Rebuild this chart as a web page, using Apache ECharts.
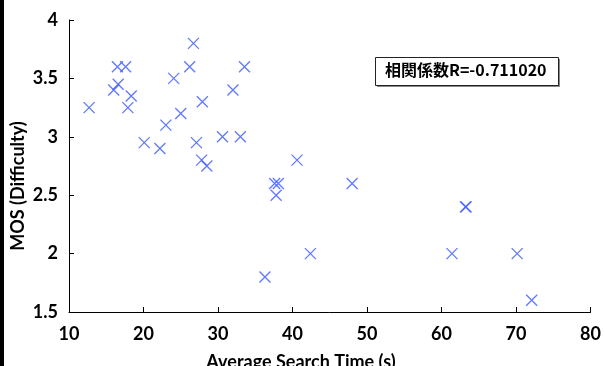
<!DOCTYPE html>
<html><head><meta charset="utf-8">
<script src="https://cdn.jsdelivr.net/npm/echarts@6/dist/echarts.min.js"></script>
<style>html,body{margin:0;padding:0;background:#fff}#c{width:604px;height:366px}</style>
</head><body><div id="c"></div>
<script>
const searchTime = [12.7,16.5,17.6,16.6,16.0,18.35,17.9,20.1,22.2,23.0,24.05,25.0,26.2,26.7,27.9,27.1,33.55,32.0,30.6,33.0,27.8,28.5,40.6,37.6,38.1,37.8,42.4,36.3,48.0,63.2,63.3,61.4,70.15,72.1];
const mos = [3.25,3.6,3.6,3.45,3.4,3.35,3.25,2.95,2.9,3.1,3.5,3.2,3.6,3.8,3.3,2.95,3.6,3.4,3.0,3.0,2.8,2.75,2.8,2.6,2.6,2.5,2.0,1.8,2.6,2.4,2.4,2.0,2.0,1.6];
const xTicks = [10,20,30,40,50,60,70,80];
const yTicks = [1.5,2,2.5,3,3.5,4];
const xName = 'Average Search Time (s)';
const yName = 'MOS (Difficulty)';
const corrText = '相関係数R=-0.711020';

const font = 'Lato,"Open Sans",sans-serif';
const chart = echarts.init(document.getElementById('c'), null, {renderer:'canvas'});
chart.setOption({
  animation:false,
  backgroundColor:'#fff',
  grid:{left:69,right:7,top:20,bottom:54},
  xAxis:{type:'value',min:xTicks[0],max:xTicks[xTicks.length-1],interval:10,
    axisLine:{lineStyle:{color:'#000',width:1}},
    axisTick:{inside:true,length:5,lineStyle:{color:'#000'}},
    axisLabel:{color:'#000',fontSize:18,fontFamily:font,fontWeight:700,margin:13},
    splitLine:{show:false}},
  yAxis:{type:'value',min:yTicks[0],max:yTicks[yTicks.length-1],interval:0.5,
    axisLine:{show:true,lineStyle:{color:'#000',width:1}},
    axisTick:{show:true,inside:true,length:5,lineStyle:{color:'#000'}},
    axisLabel:{color:'#000',fontSize:18,fontFamily:font,fontWeight:700,margin:11,
      formatter:v=>String(v)},
    splitLine:{show:false}},
  series:[{type:'scatter',
    data:searchTime.map((x,i)=>[x,mos[i]]),
    symbol:'path://M0,0L10,10M10,0L0,10',symbolSize:11,
    itemStyle:{color:'rgba(0,0,0,0)',borderColor:'#3858ff',borderWidth:1.3}}],
  graphic:[
    {type:'rect',left:0,top:0,shape:{width:4,height:366},style:{fill:'#000'}},
    {type:'text',x:301,y:362,style:{text:xName,fill:'#000',font:'700 18px '+font,align:'center',verticalAlign:'middle'}},
    {type:'text',x:18,y:186,rotation:Math.PI/2,style:{text:yName,fill:'#000',font:'700 18px '+font,align:'center',verticalAlign:'middle'}},
    {type:'rect',left:377,top:59,shape:{width:183,height:28},style:{fill:'#888'},z:10},
    {type:'rect',left:375,top:57,shape:{width:183,height:28},style:{fill:'#fff',stroke:'#222',lineWidth:1},z:11},
    {type:'text',left:385,top:62,style:{text:corrText,fill:'#000',font:'700 16px "Noto Sans CJK JP",Lato,sans-serif'},z:12}
  ]
});
</script></body></html>
